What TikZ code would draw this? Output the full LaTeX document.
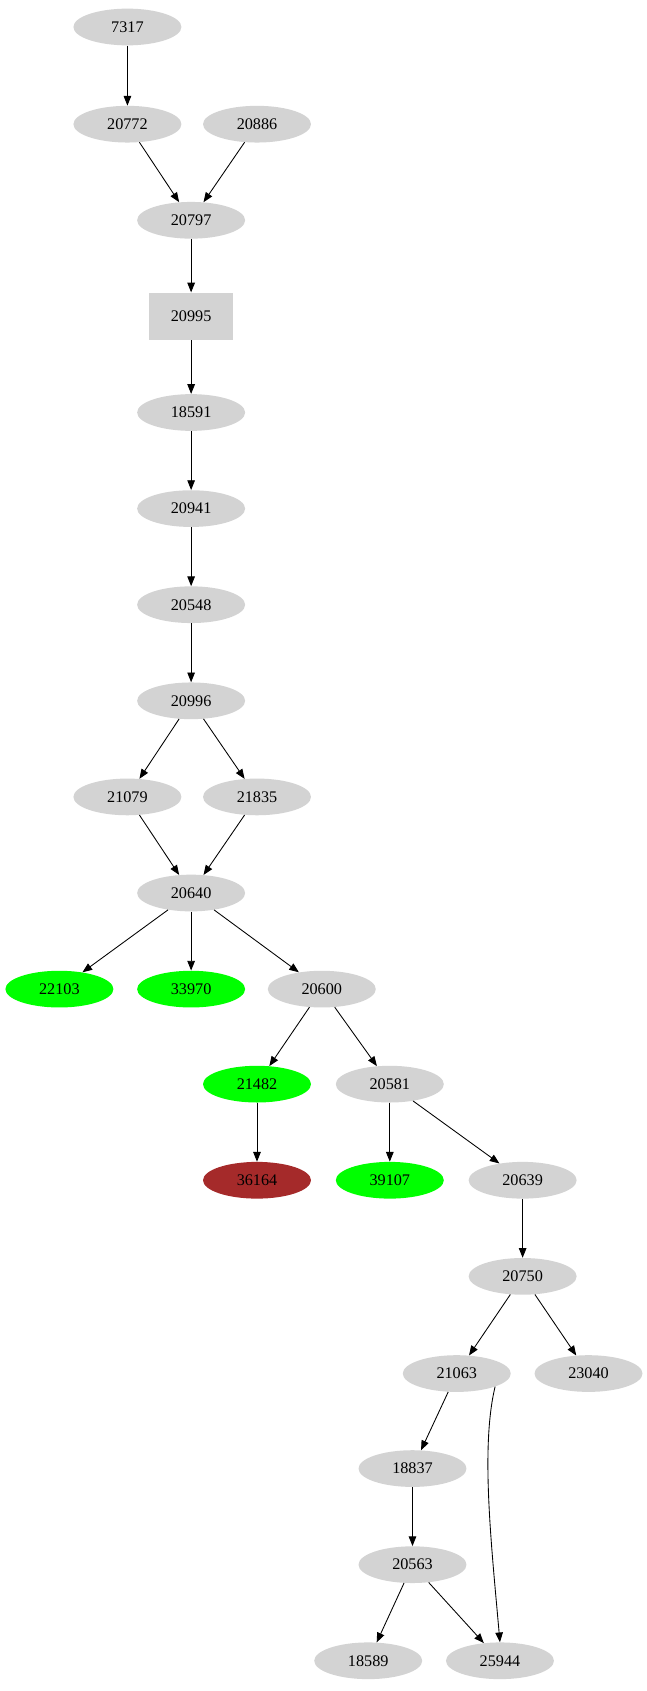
\documentclass[tikz,border=0pt]{standalone}
\usepackage{fontspec}
\setmainfont{Liberation Serif}
\usetikzlibrary{shapes.geometric,arrows.meta}
\definecolor{nodegray}{RGB}{211,211,211}
\definecolor{brickred}{RGB}{165,42,42}

\begin{document}
\begin{tikzpicture}[x=1pt,y=-1pt,
        gnode/.style={ellipse,fill=nodegray,minimum width=100pt,minimum height=34pt,inner sep=0pt,font=\fontsize{15}{15}\selectfont},
        gbox/.style={rectangle,fill=nodegray,minimum width=78pt,minimum height=44pt,inner sep=0pt,font=\fontsize{15}{15}\selectfont},
        goodnode/.style={fill=green},
        badnode/.style={fill=brickred},
        conn/.style={-{Triangle[length=9pt,width=7pt]},thick}]
        \useasboundingbox (0,0) rectangle (599,1566);
        \node[gnode] (n7317) at (118,25) {7317};
        \node[gnode] (n20772) at (118,115) {20772};
        \node[gnode] (n20886) at (238,115) {20886};
        \node[gnode] (n20797) at (177,204) {20797};
        \node[gbox] (n20995) at (177,293) {20995};
        \node[gnode] (n18591) at (177,382) {18591};
        \node[gnode] (n20941) at (177,471) {20941};
        \node[gnode] (n20548) at (177,560) {20548};
        \node[gnode] (n20996) at (177,649) {20996};
        \node[gnode] (n21079) at (118,738) {21079};
        \node[gnode] (n21835) at (238,738) {21835};
        \node[gnode] (n20640) at (177,827) {20640};
        \node[gnode,goodnode] (n22103) at (55,916) {22103};
        \node[gnode,goodnode] (n33970) at (177,916) {33970};
        \node[gnode] (n20600) at (298,916) {20600};
        \node[gnode,goodnode] (n21482) at (238,1004) {21482};
        \node[gnode] (n20581) at (361,1004) {20581};
        \node[gnode,badnode] (n36164) at (238,1093) {36164};
        \node[gnode,goodnode] (n39107) at (361,1093) {39107};
        \node[gnode] (n20639) at (484,1093) {20639};
        \node[gnode] (n20750) at (484,1182) {20750};
        \node[gnode] (n21063) at (423,1272) {21063};
        \node[gnode] (n23040) at (545,1272) {23040};
        \node[gnode] (n18837) at (382,1360) {18837};
        \node[gnode] (n20563) at (382,1449) {20563};
        \node[gnode] (n18589) at (341,1538) {18589};
        \node[gnode] (n25944) at (463,1538) {25944};

        \draw[conn] (n7317) -- (n20772);
        \draw[conn] (n20772) -- (n20797);
        \draw[conn] (n20886) -- (n20797);
        \draw[conn] (n20797) -- (n20995);
        \draw[conn] (n20995) -- (n18591);
        \draw[conn] (n18591) -- (n20941);
        \draw[conn] (n20941) -- (n20548);
        \draw[conn] (n20548) -- (n20996);
        \draw[conn] (n20996) -- (n21079);
        \draw[conn] (n20996) -- (n21835);
        \draw[conn] (n21079) -- (n20640);
        \draw[conn] (n21835) -- (n20640);
        \draw[conn] (n20640) -- (n22103);
        \draw[conn] (n20640) -- (n33970);
        \draw[conn] (n20640) -- (n20600);
        \draw[conn] (n20600) -- (n21482);
        \draw[conn] (n20600) -- (n20581);
        \draw[conn] (n21482) -- (n36164);
        \draw[conn] (n20581) -- (n39107);
        \draw[conn] (n20581) -- (n20639);
        \draw[conn] (n20639) -- (n20750);
        \draw[conn] (n20750) -- (n21063);
        \draw[conn] (n20750) -- (n23040);
        \draw[conn] (n21063) -- (n18837);
        \draw[conn] (n21063.south east) .. controls (445,1340) and (455,1430) .. (n25944.north);
        \draw[conn] (n18837) -- (n20563);
        \draw[conn] (n20563) -- (n18589);
        \draw[conn] (n20563) -- (n25944);
\end{tikzpicture}
\end{document}
